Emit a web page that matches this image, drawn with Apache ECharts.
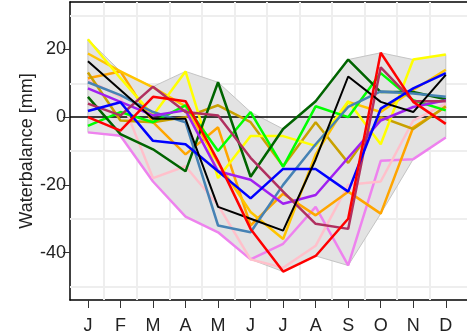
<!DOCTYPE html>
<html>
<head>
<meta charset="utf-8">
<script src="https://cdn.jsdelivr.net/npm/echarts@6/dist/echarts.min.js"></script>
<style>
  html, body { margin: 0; padding: 0; background: #fff; }
  #chart { width: 467px; height: 335px; }
</style>
</head>
<body>
<div id="chart"></div>
<script>
// Month labels along the x axis
const months = ['J', 'F', 'M', 'A', 'M', 'J', 'J', 'A', 'S', 'O', 'N', 'D'];

// Monthly water balance [mm], one array per year/station
const yellowVals    = [23, 11.5, 0.5, 13.5, -18, -5.6, -5.6, -8.5, 4.7, -8, 17, 18.5];
const goldVals      = [18.8, 13.5, 8.8, 3.2, -13.5, -28, -36, -11, 4.5, 1.5, 8, 14];
const blackVals     = [16.5, 8, -0.5, -0.5, -26.5, -30, -33.5, -12.5, 12, 4.5, 1.5, 12.5];
const goldenrodVals = [13.2, -1, -1.5, 0, 3.5, -1.5, -14.5, -1.5, -13.5, 0, -3.5, 3.2];
const orangeVals    = [11.5, 13.5, -1.5, -11, -3, -32, -22.6, -29, -22, -28.5, -3, 3];
const pinkVals      = [11, 6, -18, -14.5, -26, -42, -44.5, -38, -20, -19, -1, 4];
const steelblueVals = [10.3, 6.5, 1.5, -1.5, -32, -34, -20, -8, 3, 7.6, 7, 6];
const purpleVals    = [8.5, 4.5, 0.5, 2, -16, -18.5, -25.6, -23, -12, -1, 3, 5];
const darkgreenVals = [6, -5, -9.5, -16, 10.3, -17.6, -3.5, 4.7, 17, 7.4, 7.4, 5.3];
const maroonVals    = [4, 0.5, 9, 1.5, 0.5, -12, -22, -31.5, -33, 14.7, 4.7, 4.7];
const blueVals      = [1.8, 4.4, -7, -8, -16, -24, -15.3, -15.3, -22, 2.5, 8.5, 13];
const redVals       = [0, -4, 6, 4.7, -13, -33, -45.6, -41, -30, 19, 4.5, -2];
const limeVals      = [-2.6, 1.5, -1.5, 3.5, -10, 1.5, -14.7, 3.2, 0, 13, 5, 2];
const violetVals    = [-4.5, -5.5, -19, -29.4, -34, -42, -37.4, -26.5, -43.8, -12.9, -12.4, -6];

// Y tick labels and the light grid lines between them
const yTicks = [-40, -20, 0, 20];
const yGridValues = [-50, -30, -10, 10, 30];

const lines = [
  { name: 'violet', color: '#EE82EE', values: violetVals },
  { name: 'pink', color: '#FFC0CB', values: pinkVals },
  { name: 'orange', color: '#FFA500', values: orangeVals },
  { name: 'goldenrod', color: '#C9A100', values: goldenrodVals },
  { name: 'gold', color: '#FFC400', values: goldVals },
  { name: 'yellow', color: '#FFFF00', values: yellowVals },
  { name: 'lime', color: '#00FF00', values: limeVals },
  { name: 'darkgreen', color: '#006400', values: darkgreenVals },
  { name: 'steelblue', color: '#4682B4', values: steelblueVals },
  { name: 'purple', color: '#A020F0', values: purpleVals },
  { name: 'maroon', color: '#B03060', values: maroonVals },
  { name: 'blue', color: '#0000FF', values: blueVals },
  { name: 'black', color: '#000000', values: blackVals, width: 2 },
  { name: 'red', color: '#FF0000', values: redVals }
];

// Envelope (min / max over all series) for the grey band
const bandLow = months.map((_, i) => Math.min(...lines.map(l => l.values[i])));
const bandHigh = months.map((_, i) => Math.max(...lines.map(l => l.values[i])));

const monthPos = months.map((_, i) => i + 1);
const monthBoundaries = monthPos.slice(0, -1).map(m => m + 0.5);

const FONT = 'Liberation Sans, Arial, sans-serif';
const STEP = 34.5;           // pixels per month
const LEFT = 70, RIGHT = -24;
const plotWidth = 467 - LEFT - RIGHT;
const xMin = 1 - 19 / STEP;
const xMax = xMin + plotWidth / STEP;

const pairs = vals => vals.map((v, i) => [monthPos[i], v]);

const series = [];

// light grid lines (drawn over the frame, under the band)
series.push({
  type: 'line', data: [], z: 1, silent: true,
  markLine: {
    z: 1, silent: true, symbol: ['none', 'none'], label: { show: false },
    lineStyle: { color: '#EEEEEE', width: 2, type: 'solid' },
    animation: false,
    data: monthBoundaries.map(x => ({ xAxis: x }))
      .concat(yGridValues.map(y => ({ yAxis: y })))
  }
});

// grey band between the monthly minimum and maximum
series.push({
  type: 'custom', z: 2, silent: true,
  data: [[monthPos[0], bandLow[0]]],
  renderItem: (params, api) => {
    const pts = [];
    monthPos.forEach((m, i) => pts.push(api.coord([m, bandHigh[i]])));
    for (let i = monthPos.length - 1; i >= 0; i--) pts.push(api.coord([monthPos[i], bandLow[i]]));
    return {
      type: 'polygon',
      shape: { points: pts },
      style: { fill: '#E3E3E3', stroke: '#C4C4C4', lineWidth: 1 }
    };
  }
});

// zero line
series.push({
  type: 'line', data: [], z: 3, silent: true,
  markLine: {
    z: 3, silent: true, symbol: ['none', 'none'], label: { show: false },
    lineStyle: { color: '#000', width: 1.5, type: 'solid' },
    animation: false,
    data: [{ yAxis: 0 }]
  }
});

lines.forEach(l => {
  series.push({
    name: l.name, type: 'line', data: pairs(l.values), z: 4,
    symbol: 'none',
    lineStyle: { color: l.color, width: l.width || 2.5 }
  });
});

const chart = echarts.init(document.getElementById('chart'), null, { renderer: 'canvas' });
chart.setOption({
  animation: false,
  backgroundColor: '#fff',
  grid: { left: LEFT, right: RIGHT, top: 2, bottom: 33 },
  xAxis: [{
    type: 'value', min: xMin, max: xMax,
    axisLine: { show: true, onZero: false, lineStyle: { color: '#000', width: 1.5 } },
    axisTick: { show: true, customValues: monthPos, length: 8, lineStyle: { color: '#333', width: 1 } },
    axisLabel: {
      customValues: monthPos, formatter: v => months[Math.round(v) - 1],
      fontFamily: FONT, fontSize: 18, color: '#222', margin: 17
    },
    splitLine: { show: false }
  }, {
    type: 'value', position: 'top', min: xMin, max: xMax,
    axisLine: { show: true, onZero: false, lineStyle: { color: '#000', width: 1.5 } },
    axisTick: { show: false }, axisLabel: { show: false }, splitLine: { show: false }
  }],
  yAxis: {
    type: 'value', min: -54, max: 34,
    name: 'Waterbalance [mm]', nameLocation: 'middle', nameGap: 34, nameRotate: 90,
    nameMoveOverlap: false,
    nameTextStyle: { fontFamily: FONT, fontSize: 18, color: '#222' },
    axisLine: { show: true, onZero: false, lineStyle: { color: '#000', width: 1.5 } },
    axisTick: { show: true, customValues: yTicks, length: 7, lineStyle: { color: '#333', width: 1 } },
    axisLabel: { customValues: yTicks, fontFamily: FONT, fontSize: 18, color: '#222', margin: 4 },
    splitLine: { show: false }
  },
  series: series
});
</script>
</body>
</html>
